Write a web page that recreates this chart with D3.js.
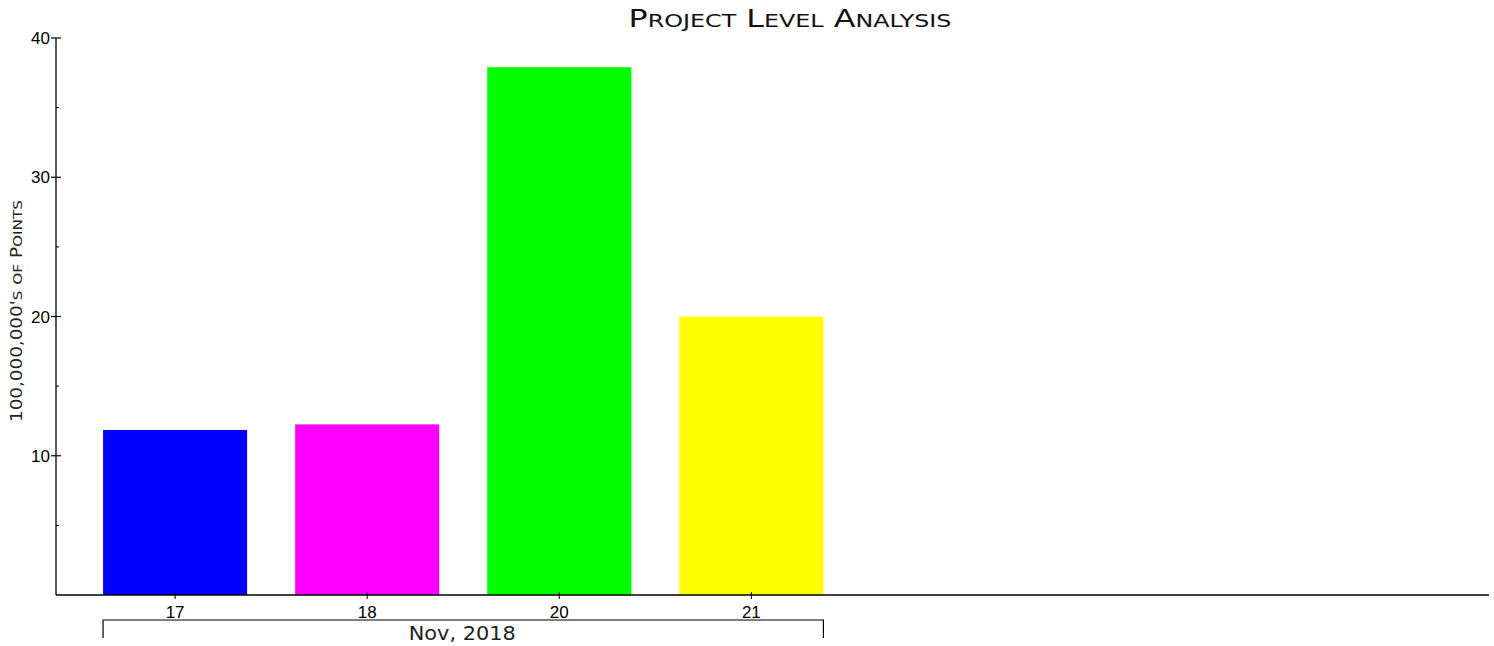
<!DOCTYPE html>
<html><head><meta charset="utf-8">
<script src="https://cdn.jsdelivr.net/npm/d3@7"></script>
<style>body{margin:0;background:#fff}svg{display:block}</style>
</head><body>
<svg id="c" width="1494" height="646"></svg>
<script>
const categories = ["17","18","20","21"];
const values = [11.85, 12.25, 37.9, 20.0];
const colors = ["#0000ff","#ff00ff","#00ff00","#ffff00"];
const yMajorTicks = [10,20,30,40];
const yMinorTicks = [5,15,25,35];
const groupLabel = "Nov, 2018";
const titleText = "Project Level Analysis";
const yLabelText = "100,000,000's of Points";

(function(){
const svg = d3.select("#c");
const pL = 56, pR = 1489, pT = 38, pB = 595;
const y = d3.scaleLinear().domain([0,40]).range([pB, pT]);
const x = d3.scaleLinear().domain([-0.62, 6.84]).range([pL, pR]);
const bw = x(0.75) - x(0);

// small-caps helper: lowercase -> smaller uppercase
function smallCaps(sel, str, big, small){
  const parts = [];
  for (const ch of str){
    const isLower = ch !== ch.toUpperCase();
    const size = isLower ? small : big;
    const last = parts[parts.length-1];
    if (last && last.size === size) last.t += ch.toUpperCase();
    else parts.push({t: ch.toUpperCase(), size});
  }
  parts.forEach(p=>sel.append("tspan").attr("font-size",p.size).text(p.t));
  return sel;
}

// bars
svg.selectAll("rect.bar").data(values).enter().append("rect")
  .attr("x",(d,i)=>x(i)-bw/2).attr("width",bw)
  .attr("y",d=>y(d)).attr("height",d=>y(0)-y(d))
  .attr("fill",(d,i)=>colors[i]);

// axes lines
svg.append("line").attr("x1",pL).attr("x2",pL).attr("y1",pT).attr("y2",pB).attr("stroke","#000").attr("stroke-width",1.3);
svg.append("line").attr("x1",pL).attr("x2",pR).attr("y1",pB).attr("y2",pB).attr("stroke","#000").attr("stroke-width",1.3);

// y ticks
yMajorTicks.forEach(t=>{
  svg.append("line").attr("x1",pL-5).attr("x2",pL+5).attr("y1",y(t)).attr("y2",y(t)).attr("stroke","#000").attr("stroke-width",1.2);
  svg.append("text").attr("x",pL-6).attr("y",y(t)).attr("dy","0.36em").attr("text-anchor","end")
    .attr("font-family","Liberation Sans, Arial, sans-serif").attr("font-size",17).text(t);
});
yMinorTicks.forEach(t=>{
  svg.append("line").attr("x1",pL).attr("x2",pL+3).attr("y1",y(t)).attr("y2",y(t)).attr("stroke","#000").attr("stroke-width",1);
});

// x ticks and labels
categories.forEach((c,i)=>{
  svg.append("line").attr("x1",x(i)).attr("x2",x(i)).attr("y1",pB-3).attr("y2",pB+4).attr("stroke","#000");
  svg.append("text").attr("x",x(i)).attr("y",618).attr("text-anchor","middle")
    .attr("font-family","Liberation Sans, Arial, sans-serif").attr("font-size",17).text(c);
});

// group bracket
const gx1 = x(0)-bw/2, gx2 = x(categories.length-1)+bw/2;
svg.append("path").attr("d",`M${gx1},638V620H${gx2}V638`).attr("fill","none").attr("stroke","#000").attr("stroke-width",1.2);
svg.append("text").attr("x",(gx1+gx2)/2 - 1).attr("y",640).attr("text-anchor","middle")
  .attr("font-family","DejaVu Sans, sans-serif").attr("font-size",19).attr("fill","#222")
  .attr("textLength",107).attr("lengthAdjust","spacingAndGlyphs").text(groupLabel);

// title
const tt = svg.append("text").attr("x",790).attr("y",26.5).attr("text-anchor","middle")
  .attr("font-family","DejaVu Sans, sans-serif").attr("fill","#111")
  .attr("textLength",323).attr("lengthAdjust","spacingAndGlyphs");
smallCaps(tt, titleText, 24, 18);

// y label
const yl = svg.append("text").attr("transform","translate(22,311) rotate(-90)").attr("text-anchor","middle")
  .attr("font-family","DejaVu Sans, sans-serif").attr("fill","#222")
  .attr("textLength",222).attr("lengthAdjust","spacingAndGlyphs");
smallCaps(yl, yLabelText, 15, 12.5);
})();
</script>
</body></html>
